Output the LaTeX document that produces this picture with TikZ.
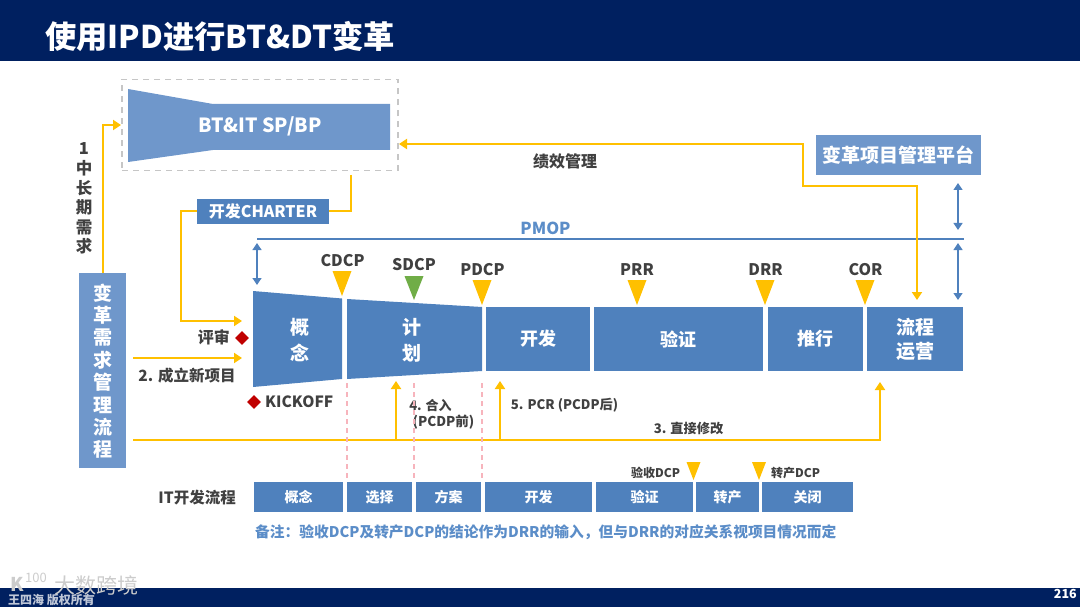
\documentclass[tikz,border=0pt]{standalone}
\usepackage{fontspec}
\setmainfont{Noto Sans CJK SC}
\usetikzlibrary{arrows.meta,shapes.geometric}
\definecolor{navy}{HTML}{002060}
\definecolor{stageblue}{HTML}{4F81BD}
\definecolor{paleblue}{HTML}{6F97CB}
\definecolor{flowyellow}{HTML}{FFC000}
\definecolor{darktext}{HTML}{404040}
\definecolor{gatered}{HTML}{C00000}
\definecolor{gategreen}{HTML}{70AD47}
\definecolor{cutpink}{HTML}{F7B4BC}
\definecolor{notetext}{HTML}{5B8DC8}
\newcommand{\px}[1]{\fontsize{#1}{#1}\selectfont}
\tikzset{
    stagebox/.style={fill=stageblue, text=white, inner sep=0pt, outer sep=0pt, font=\px{18}\bfseries, align=center},
    itbox/.style={fill=stageblue, text=white, inner sep=0pt, outer sep=0pt, font=\px{14}\bfseries},
    palebox/.style={fill=paleblue, text=white, inner sep=0pt, outer sep=0pt, font=\px{19}\bfseries, align=center},
    gatelabel/.style={text=darktext, inner sep=0pt, font=\px{16}\bfseries},
    textlabel/.style={text=darktext, inner sep=0pt, font=\px{14}\bfseries},
    flow/.style={draw=flowyellow, line width=2pt, -{Triangle[length=8pt,width=10pt]}},
    flowplain/.style={draw=flowyellow, line width=2pt},
    span/.style={draw=stageblue, line width=1.3pt, {Triangle[length=7pt,width=9pt]}-{Triangle[length=7pt,width=9pt]}},
    cutline/.style={draw=cutpink, line width=1.3pt, dash pattern=on 5pt off 4pt},
    gatemark/.style={fill=gatered, diamond, inner sep=0pt, minimum size=14pt},
}
\begin{document}
\begin{tikzpicture}[x=1pt,y=-1pt]
    \useasboundingbox (0,0) rectangle (1080,607);
    % header and footer bands
    \fill[navy] (0,0) rectangle (1080,61);
    \fill[navy] (0,588) rectangle (1080,607);
    \node[text=white, anchor=west, inner sep=0pt, font=\px{31.3}\bfseries] (title) at (45,36) {使用IPD进行BT\&DT变革};
    \node[text=white, anchor=east, inner sep=0pt, font=\px{12.5}\bfseries] (pagenum) at (1077,594) {216};
    \node[text=white, opacity=0.75, anchor=west, inner sep=0pt, font=\px{12}\bfseries] (owner) at (8,600.5) {王四海 版权所有};
    \node[text=gray!40, anchor=west, inner sep=0pt, font=\px{21}] (mark) at (54,585) {大数跨境};
    \node[text=gray!40, anchor=west, inner sep=0pt, font=\px{19}\bfseries] (markK) at (10,584) {K};
    \node[text=gray!40, anchor=west, inner sep=0pt, font=\px{13}] (marklogo) at (25,578) {100};

    % strategy block
    \node[draw=gray!45, dash pattern=on 6pt off 5pt, line width=1.4pt, minimum width=276pt, minimum height=91pt, inner sep=0pt] (spframe) at (260,125) {};
    \fill[paleblue] (128,89) -- (213,104) -- (390,104) -- (390,150) -- (213,150) -- (128,162) -- cycle;
    \node[text=white, inner sep=0pt, font=\px{19.5}\bfseries] (spbp) at (260,126) {BT\&IT SP/BP};
    \node[stagebox, font=\px{16}\bfseries, minimum width=132pt, minimum height=25pt] (charter) at (263,211.5) {开发CHARTER};
    \node[palebox, minimum width=165pt, minimum height=40pt] (platform) at (898.5,155) {变革项目管理平台};
    \node[palebox, minimum width=47pt, minimum height=195pt, font=\px{19}\bfseries] (reqflow) at (102.5,370.5) {};
    \foreach \ch [count=\i from 0] in {变,革,需,求,管,理,流,程}
        \node[text=white, inner sep=0pt, font=\px{19}\bfseries] (req\i) at (103,{293+22.4*\i}) {\ch};
    \foreach \ch [count=\i from 0] in {1,中,长,期,需,求}
        \node[text=darktext, inner sep=0pt, font=\px{16.5}\bfseries] (need\i) at (84,{149+19.5*\i}) {\ch};

    % main stages
    \fill[stageblue] (253,291) -- (342,298.5) -- (342,379) -- (253,387) -- cycle;
    \fill[stageblue] (347,299) -- (482,307) -- (482,371) -- (347,379) -- cycle;
    \node[text=white, inner sep=0pt, font=\px{19}\bfseries, align=center] (concept) at (300,340) {概\\[7pt]念};
    \node[text=white, inner sep=0pt, font=\px{19}\bfseries, align=center] (plan) at (412,340) {计\\[7pt]划};
    \node[stagebox, minimum width=104pt, minimum height=64pt] (develop) at (538,339) {开发};
    \node[stagebox, minimum width=169pt, minimum height=64pt] (verify) at (678.5,339) {验证};
    \node[stagebox, minimum width=95pt, minimum height=64pt] (rollout) at (815.5,339) {推行};
    \node[stagebox, minimum width=96pt, minimum height=64pt, font=\px{19}\bfseries] (operate) at (915,339) {流程\\[5pt]运营};

    % decision gates
    \foreach \x/\toprow/\tip/\col in {342/271/296/flowyellow, 414/276/300/gategreen, 482/280/305/flowyellow, 637/280/305/flowyellow, 765/280/305/flowyellow, 865/280/305/flowyellow}
        \fill[\col] (\x-9.5,\toprow) -- (\x+9.5,\toprow) -- (\x,\tip) -- cycle;
    \node[gatelabel] (cdcp) at (342.5,260.5) {CDCP};
    \node[gatelabel] (sdcp) at (414,264.5) {SDCP};
    \node[gatelabel] (pdcp) at (482.5,269.5) {PDCP};
    \node[gatelabel] (prr) at (637,269.5) {PRR};
    \node[gatelabel] (drr) at (765.5,269.5) {DRR};
    \node[gatelabel] (cor) at (865.5,269.5) {COR};

    \node[gatemark] (review) at (242,338) {};
    \node[textlabel, anchor=east, font=\px{16}\bfseries] (reviewlabel) at (230,337.5) {评审};
    \node[gatemark] (kickoff) at (254,402) {};
    \node[textlabel, anchor=west, font=\px{15.5}\bfseries] (kickofflabel) at (265,401.5) {KICKOFF};

    % PMOP level
    \coordinate (pmopleft) at (257,239);
    \coordinate (pmopright) at (964,239);
    \draw[stageblue, line width=1.3pt] (pmopleft) -- (pmopright);
    \node[text=notetext, inner sep=0pt, font=\px{16.5}\bfseries] (pmop) at (545.5,228.5) {PMOP};
    \coordinate (spanA) at (257,243);
    \coordinate (spanB) at (257,285);
    \coordinate (spanC) at (958,183);
    \coordinate (spanD) at (958,230);
    \coordinate (spanE) at (958,243);
    \coordinate (spanF) at (958,300);
    \draw[span] (spanA) -- (spanB);
    \draw[span] (spanC) -- (spanD);
    \draw[span] (spanE) -- (spanF);

    % yellow flows
    \coordinate (needtop) at (103,273);
    \coordinate (needend) at (121,125);
    \draw[flow] (needtop) |- (needend);

    \coordinate (charterin) at (351,175);
    \draw[flowplain] (charterin) |- (charter.east);
    \coordinate (reviewin) at (242,321);
    \draw[flow] (charter.west) -| (181,321) -- (reviewin);

    \coordinate (kpileft) at (399,144);
    \coordinate (kpibend) at (803,144);
    \coordinate (kpidrop) at (803,186);
    \coordinate (kpiright) at (917,186);
    \coordinate (kpiend) at (917,300);
    \draw[flow, {Triangle[length=8pt,width=10pt]}-{Triangle[length=8pt,width=10pt]}] (kpileft) -- (kpibend) -- (kpidrop) -- (kpiright) -- (kpiend);
    \node[textlabel, font=\px{16}\bfseries] (kpi) at (565,161) {绩效管理};

    \coordinate (newstart) at (133,358);
    \coordinate (newend) at (242,358);
    \draw[flow] (newstart) -- (newend);
    \node[textlabel, font=\px{15.5}\bfseries] (newlabel) at (187,376) {2. 成立新项目};

    \coordinate (busstart) at (133,440);
    \coordinate (busend) at (880,440);
    \coordinate (upthree) at (880,382);
    \coordinate (busfour) at (396,440);
    \coordinate (upfour) at (396,381);
    \coordinate (busfive) at (500,440);
    \coordinate (upfive) at (500,381);
    \draw[flow] (busstart) -- (busend) -- (upthree);
    \draw[flow] (busfour) -- (upfour);
    \draw[flow] (busfive) -- (upfive);
    \node[textlabel, font=\px{13}\bfseries] (mergeA) at (430.5,405.5) {4. 合入};
    \node[textlabel, font=\px{13.5}\bfseries] (mergeB) at (443.5,422.5) {(PCDP前)};
    \node[textlabel, font=\px{13.2}\bfseries] (pcr) at (564.5,405.5) {5. PCR (PCDP后)};
    \node[textlabel, font=\px{13.2}\bfseries] (direct) at (688.5,428.5) {3. 直接修改};

    % IT row
    \foreach \x in {347,414,482}
        \draw[cutline] (\x,383) -- (\x,480);
    \node[textlabel, anchor=east, font=\px{15.5}\bfseries] (itlabel) at (236,497.5) {IT开发流程};
    \node[itbox, minimum width=89pt, minimum height=30pt] (itconcept) at (298.5,497) {概念};
    \node[itbox, minimum width=65pt, minimum height=30pt] (itselect) at (379.5,497) {选择};
    \node[itbox, minimum width=65pt, minimum height=30pt] (itscheme) at (448.5,497) {方案};
    \node[itbox, minimum width=107pt, minimum height=30pt] (itdevelop) at (538.5,497) {开发};
    \node[itbox, minimum width=97pt, minimum height=30pt] (itverify) at (644.5,497) {验证};
    \node[itbox, minimum width=63pt, minimum height=30pt] (ittransfer) at (727.5,497) {转产};
    \node[itbox, minimum width=91pt, minimum height=30pt] (itclose) at (807.5,497) {关闭};
    \fill[flowyellow] (686.5,462) -- (700.5,462) -- (693.5,480) -- cycle;
    \fill[flowyellow] (752,462) -- (766,462) -- (759,480) -- cycle;
    \node[textlabel, font=\px{12}\bfseries] (dcpa) at (655.5,473) {验收DCP};
    \node[textlabel, font=\px{12}\bfseries] (dcpb) at (795.5,473) {转产DCP};
    \node[text=notetext, anchor=west, inner sep=0pt, font=\px{14.73}\bfseries] (note) at (255,532.5) {备注：验收DCP及转产DCP的结论作为DRR的输入，但与DRR的对应关系视项目情况而定};
\end{tikzpicture}
\end{document}
